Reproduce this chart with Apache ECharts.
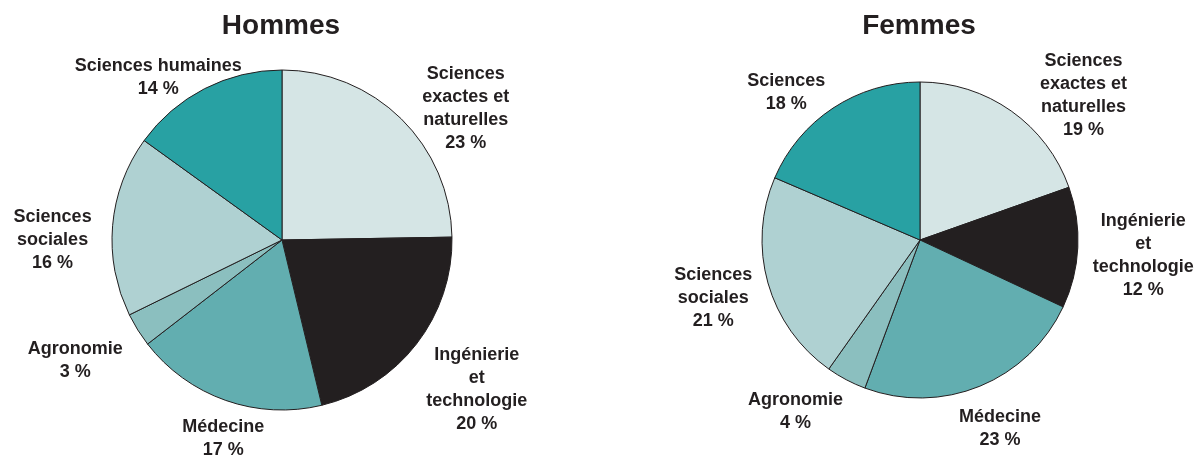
<!DOCTYPE html>
<html>
<head>
<meta charset="utf-8">
<script src="https://cdn.jsdelivr.net/npm/echarts@6/dist/echarts.min.js"></script>
<style>
  html, body { margin: 0; padding: 0; background: #fff; }
  #chart { width: 1200px; height: 455px; }
</style>
</head>
<body>
<div id="chart"></div>
<script>
// categories (line breaks as in the original labels)
const hommesCategories = ['Sciences\nexactes et\nnaturelles', 'Ingénierie\net\ntechnologie', 'Médecine', 'Agronomie', 'Sciences\nsociales', 'Sciences humaines'];
const femmesCategories = ['Sciences\nexactes et\nnaturelles', 'Ingénierie\net\ntechnologie', 'Médecine', 'Agronomie', 'Sciences\nsociales', 'Sciences'];
// percentages
const hommesValues = [23, 20, 17, 3, 16, 14];
const femmesValues = [19, 12, 23, 4, 21, 18];
const titles = ['Hommes', 'Femmes'];

const sliceColors = ['#d5e5e5', '#231f20', '#62aeb0', '#8bbfbf', '#afd1d2', '#28a1a3'];
// small hand nudges of the labels, like in the original layout
const hommesNudge = [[14, 41], [2, 0], [9, 6], [-17, 2], [-11, 19], [-30, 21]];
const femmesNudge = [[34, 39], [5, 5], [7, 10], [-34, 0], [-6, 1], [-26, 16]];

const FONT = 'Liberation Sans, Arial, sans-serif';

// puts each label just outside its slice, centred on the slice's mid angle
function labelPlacer(values, nudge, cx, cy, r, gap) {
    const total = values.reduce((a, b) => a + b, 0);
    return function (params) {
        let before = 0;
        for (let i = 0; i < params.dataIndex; i++) before += values[i];
        const mid = (before + values[params.dataIndex] / 2) / total * Math.PI * 2;
        const dx = Math.sin(mid), dy = -Math.cos(mid);
        const w = params.labelRect.width / 2, h = params.labelRect.height / 2;
        const d = Math.min(
            Math.abs(dx) > 1e-6 ? w / Math.abs(dx) : Infinity,
            Math.abs(dy) > 1e-6 ? h / Math.abs(dy) : Infinity
        );
        const n = nudge[params.dataIndex];
        return {
            x: cx + dx * (r + gap + d) + n[0],
            y: cy + dy * (r + gap + d) + n[1],
            align: 'center',
            verticalAlign: 'middle'
        };
    };
}

function pieSeries(names, values, nudge, cx, r) {
    return {
        type: 'pie',
        center: [cx, 240],
        radius: r,
        startAngle: 90,
        clockwise: true,
        animation: false,
        silent: true,
        itemStyle: { borderColor: '#231f20', borderWidth: 1 },
        label: {
            show: true,
            position: 'outside',
            overflow: 'none',
            color: '#231f20',
            fontFamily: FONT,
            fontWeight: 'bold',
            fontSize: 18,
            lineHeight: 23,
            formatter: (p) => p.name + '\n' + p.value + ' %'
        },
        labelLine: { show: false },
        labelLayout: labelPlacer(values, nudge, cx, 240, r, 10),
        data: names.map((n, i) => ({ name: n, value: values[i], itemStyle: { color: sliceColors[i] } }))
    };
}

const chart = echarts.init(document.getElementById('chart'));
chart.setOption({
    backgroundColor: '#fff',
    title: [
        { text: titles[0], left: 276, top: 7, textAlign: 'center',
          textStyle: { fontFamily: FONT, fontWeight: 'bold', fontSize: 28, color: '#231f20' } },
        { text: titles[1], left: 914, top: 7, textAlign: 'center',
          textStyle: { fontFamily: FONT, fontWeight: 'bold', fontSize: 28, color: '#231f20' } }
    ],
    series: [
        pieSeries(hommesCategories, hommesValues, hommesNudge, 282, 170),
        pieSeries(femmesCategories, femmesValues, femmesNudge, 920, 158)
    ]
});
</script>
</body>
</html>
